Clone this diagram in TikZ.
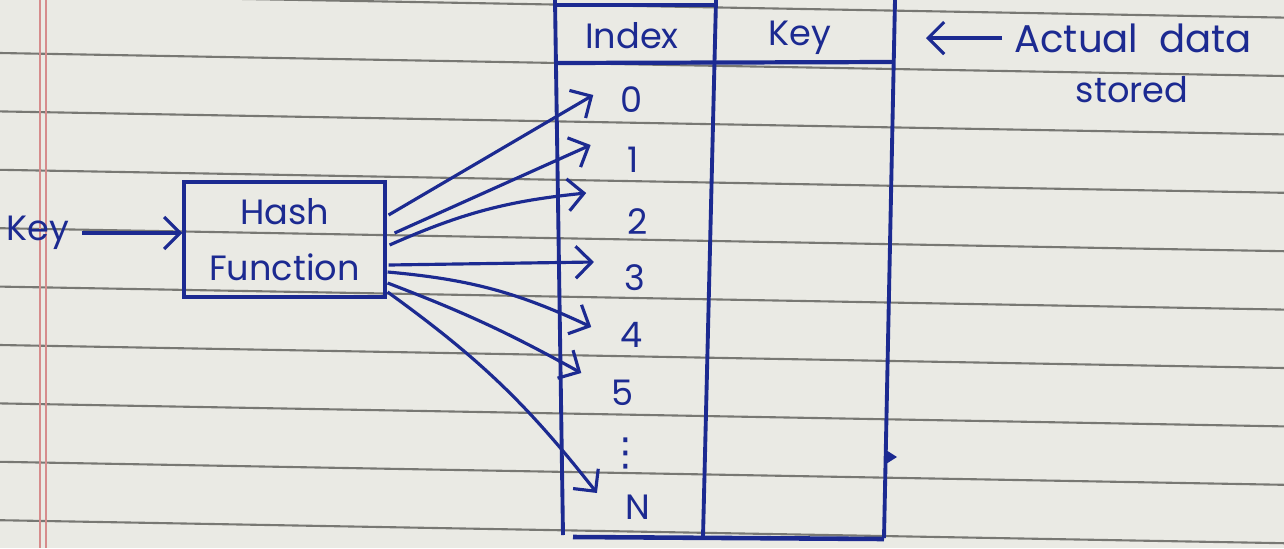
\documentclass[tikz,border=0pt]{standalone}
\usepackage{fontspec}
\setmainfont{Poppins}
\newfontfamily\symfont{DejaVu Sans}
\usetikzlibrary{arrows.meta,positioning}

\definecolor{ink}{RGB}{28,42,145}
\definecolor{paper}{RGB}{234,234,228}
\definecolor{ruling}{RGB}{120,120,115}
\definecolor{margin}{RGB}{214,140,140}

\tikzset{
  hand/.style={text=ink, font=\fontsize{10}{16}\selectfont},
  pen/.style={draw=ink, line width=0.9pt},
  arr/.style={pen, -{Straight Barb[length=1.6mm,width=3.2mm]}},
  hashbox/.style={pen, minimum width=2.01cm, minimum height=1.15cm, align=center},
  idx/.style={hand, inner sep=0pt},
}

\begin{document}
\begin{tikzpicture}[x=1cm,y=-1cm]
    %paper
    \fill[paper] (0,0) rectangle (12.84,5.48);
    \useasboundingbox (0,0) rectangle (12.84,5.48);
    \foreach \k in {-1,...,8}
        \draw[ruling, line width=0.6pt] (0,{0.53+0.584*\k}) -- (12.84,{0.76+0.584*\k});
    \draw[margin, line width=0.6pt] (0.40,0) -- (0.40,5.48) (0.46,0) -- (0.46,5.48);

    %hash function
    \node[hashbox, hand] (hash) at (2.845,2.395) {Hash\\Function};
    \node[hand] (keyin) at (0.38,2.33) {Key};
    \draw[arr] (keyin) -- (keyin -| hash.west);

    %table
    \draw[pen, line width=1.1pt] (5.55,0) -- (5.63,5.35);
    \draw[pen, line width=1.1pt] (7.16,0) -- (7.03,5.37);
    \draw[pen, line width=1.1pt] (8.95,0) -- (8.84,5.38);
    \draw[pen, line width=1.2pt] (5.56,0.05) -- (7.15,0.05);
    \draw[pen, line width=1.2pt] (5.56,0.63) -- (8.94,0.62);
    \draw[pen, line width=1.3pt] (5.73,5.37) -- (8.84,5.39);
    \fill[ink] (8.86,4.50) -- (8.97,4.57) -- (8.86,4.64) -- cycle;

    \node[hand] (hindex) at (6.32,0.36) {Index};
    \node[hand] (hkey) at (8.00,0.38) {Key};

    %index labels
    \node[idx] (i0) at (6.32,1.00) {0};
    \node[idx] (i1) at (6.33,1.60) {1};
    \node[idx] (i2) at (6.38,2.22) {2};
    \node[idx] (i3) at (6.35,2.78) {3};
    \node[idx] (i4) at (6.32,3.35) {4};
    \node[idx] (i5) at (6.23,3.93) {5};
    \node[idx, font=\symfont\fontsize{11}{16}\selectfont] (idots) at (6.26,4.53) {⋮};
    \node[idx] (iN) at (6.38,5.07) {N};

    %hashing arrows
    \foreach \i/\sx/\sy/\tx/\ty/\b in {0/0.2mm/2.45mm/-2.7mm/0.5mm/0,
                                       1/0.8mm/0.65mm/-3.6mm/1.5mm/0,
                                       2/0.3mm/-0.55mm/-4.1mm/2.9mm/9,
                                       3/0.2mm/-2.55mm/-3.0mm/1.6mm/0,
                                       4/0.1mm/-3.25mm/-2.9mm/0.8mm/10,
                                       5/0.1mm/-4.35mm/-3.0mm/2.0mm/4,
                                       N/0.1mm/-5.25mm/-2.8mm/1.4mm/8}
        \draw[arr] ([xshift=\sx,yshift=\sy]hash.east) to[bend left=\b] ([xshift=\tx,yshift=\ty]i\i.west);

    %note
    \node[hand, font=\fontsize{11}{16}\selectfont] (actual) at (11.33,0.38) {Actual\ \ data};
    \node[hand] (stored) at (11.32,0.90) {stored};
    \coordinate (noteend) at (9.26,0.38);
    \draw[arr] (actual) -- (noteend);
\end{tikzpicture}
\end{document}
